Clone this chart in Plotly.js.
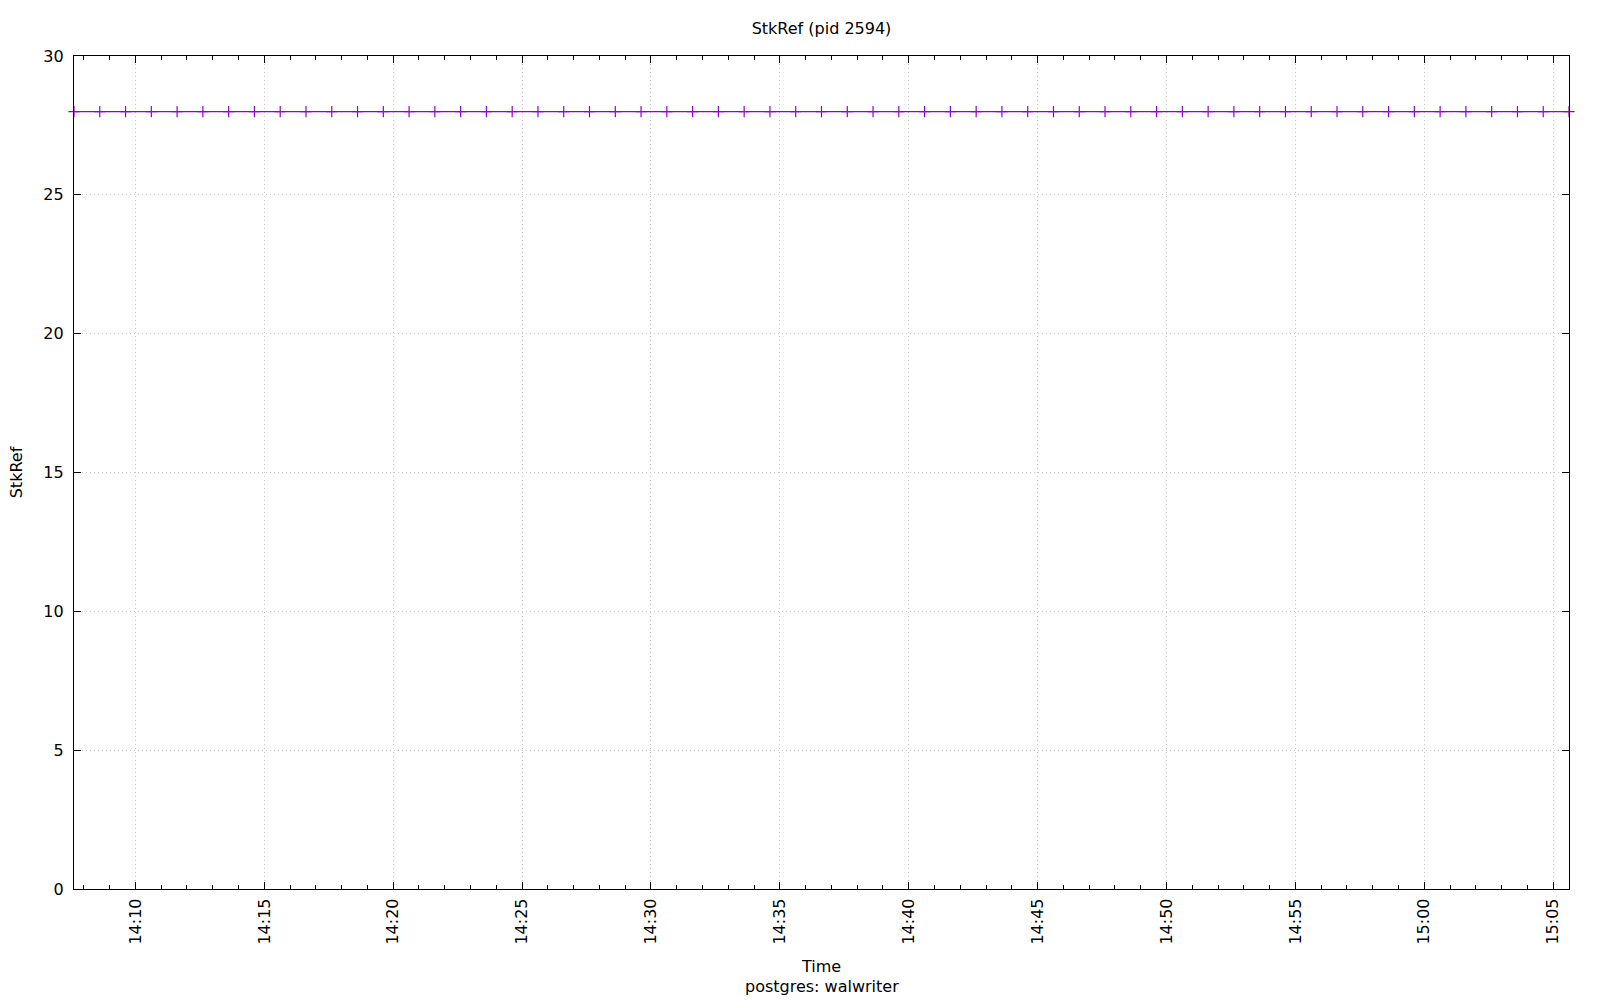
<!DOCTYPE html>
<html>
<head>
<meta charset="utf-8">
<script src="https://cdn.plot.ly/plotly-3.0.1.min.js"></script>
<style>
  html, body { margin: 0; padding: 0; background: #fff; }
  #chart { width: 1600px; height: 1000px; }
</style>
</head>
<body>
<div id="chart"></div>
<script>
// ---- data ----
const chartTitle = "StkRef (pid 2594)";
const xLabel = "Time";
const subLabel = "postgres: walwriter";
const yLabel = "StkRef";

const times = [
  "2024-01-01 14:07:37", "2024-01-01 14:08:37", "2024-01-01 14:09:37", "2024-01-01 14:10:37",
  "2024-01-01 14:11:37", "2024-01-01 14:12:37", "2024-01-01 14:13:37", "2024-01-01 14:14:37",
  "2024-01-01 14:15:37", "2024-01-01 14:16:37", "2024-01-01 14:17:37", "2024-01-01 14:18:37",
  "2024-01-01 14:19:37", "2024-01-01 14:20:37", "2024-01-01 14:21:37", "2024-01-01 14:22:37",
  "2024-01-01 14:23:37", "2024-01-01 14:24:37", "2024-01-01 14:25:37", "2024-01-01 14:26:37",
  "2024-01-01 14:27:37", "2024-01-01 14:28:37", "2024-01-01 14:29:37", "2024-01-01 14:30:37",
  "2024-01-01 14:31:37", "2024-01-01 14:32:37", "2024-01-01 14:33:37", "2024-01-01 14:34:37",
  "2024-01-01 14:35:37", "2024-01-01 14:36:37", "2024-01-01 14:37:37", "2024-01-01 14:38:37",
  "2024-01-01 14:39:37", "2024-01-01 14:40:37", "2024-01-01 14:41:37", "2024-01-01 14:42:37",
  "2024-01-01 14:43:37", "2024-01-01 14:44:37", "2024-01-01 14:45:37", "2024-01-01 14:46:37",
  "2024-01-01 14:47:37", "2024-01-01 14:48:37", "2024-01-01 14:49:37", "2024-01-01 14:50:37",
  "2024-01-01 14:51:37", "2024-01-01 14:52:37", "2024-01-01 14:53:37", "2024-01-01 14:54:37",
  "2024-01-01 14:55:37", "2024-01-01 14:56:37", "2024-01-01 14:57:37", "2024-01-01 14:58:37",
  "2024-01-01 14:59:37", "2024-01-01 15:00:37", "2024-01-01 15:01:37", "2024-01-01 15:02:37",
  "2024-01-01 15:03:37", "2024-01-01 15:04:37", "2024-01-01 15:05:37"
];

const stkRef = [
  28, 28, 28, 28, 28, 28, 28, 28, 28, 28,
  28, 28, 28, 28, 28, 28, 28, 28, 28, 28,
  28, 28, 28, 28, 28, 28, 28, 28, 28, 28,
  28, 28, 28, 28, 28, 28, 28, 28, 28, 28,
  28, 28, 28, 28, 28, 28, 28, 28, 28, 28,
  28, 28, 28, 28, 28, 28, 28, 28, 28
];

const yTickVals = [0, 5, 10, 15, 20, 25, 30];

// ---- drawing ----
const FONT = "DejaVu Sans, Verdana, sans-serif";
const FS = 16;
const PURPLE = "#9400d3";

const trace = {
  type: "scatter",
  mode: "lines+markers",
  x: times,
  y: stkRef,
  cliponaxis: false,
  line: { color: PURPLE, width: 1.2 },
  marker: {
    symbol: "cross-thin",
    size: 8,
    color: PURPLE,
    line: { color: PURPLE, width: 1.2 }
  },
  hoverinfo: "x+y",
  showlegend: false
};

const axisCommon = {
  showline: true,
  linecolor: "#000",
  linewidth: 1.2,
  mirror: "ticks",
  ticks: "inside",
  tickcolor: "#000",
  tickwidth: 1,
  ticklen: 7,
  showgrid: true,
  gridcolor: "#c8c8c8",
  gridwidth: 1,
  griddash: "1px,3px",
  zeroline: false,
  tickfont: { family: FONT, size: FS, color: "#000" }
};

const layout = {
  width: 1600,
  height: 1000,
  paper_bgcolor: "#fff",
  plot_bgcolor: "#fff",
  margin: { l: 74, r: 31, t: 56, b: 111 },
  font: { family: FONT, size: FS, color: "#000" },
  title: {
    text: chartTitle,
    font: { family: FONT, size: FS, color: "#000" },
    xref: "paper", x: 0.5, xanchor: "center",
    yref: "container", y: 1 - 28 / 1000, yanchor: "middle"
  },
  xaxis: Object.assign({}, axisCommon, {
    type: "date",
    range: [times[0], times[times.length - 1]],
    autorange: false,
    tick0: "2024-01-01 14:00:00",
    dtick: 300000,
    tickformat: "%H:%M",
    tickangle: -90,
    ticklabelstandoff: 2,
    minor: {
      dtick: 60000,
      tick0: "2024-01-01 14:00:00",
      ticks: "inside",
      ticklen: 4,
      tickcolor: "#000",
      tickwidth: 1,
      showgrid: false
    },
    title: {
      text: xLabel,
      font: { family: FONT, size: FS, color: "#000" },
      standoff: 17
    }
  }),
  yaxis: Object.assign({}, axisCommon, {
    range: [0, 30],
    autorange: false,
    tickmode: "array",
    tickvals: yTickVals,
    ticktext: yTickVals.map(String),
    ticklabelstandoff: 6,
    title: {
      text: yLabel,
      font: { family: FONT, size: FS, color: "#000" },
      standoff: 16
    }
  }),
  annotations: [{
    text: subLabel,
    xref: "paper", x: 0.5, xanchor: "center",
    yref: "paper", y: -(986 - 889) / 833, yanchor: "middle",
    showarrow: false,
    font: { family: FONT, size: FS, color: "#000" }
  }]
};

Plotly.newPlot("chart", [trace], layout, { displayModeBar: false, staticPlot: false });
</script>
</body>
</html>
